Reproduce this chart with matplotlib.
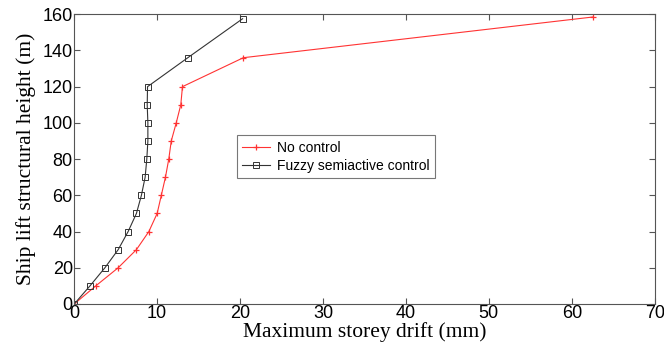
import matplotlib
matplotlib.use("Agg")
import matplotlib.pyplot as plt

height = [0, 10, 20, 30, 40, 50, 60, 70, 80, 90, 100, 110, 120, 136, 157.5]
height_nc = [0, 10, 20, 30, 40, 50, 60, 70, 80, 90, 100, 110, 120, 136, 158.5]
no_control = [0, 2.6, 5.3, 7.5, 9.0, 10.0, 10.5, 11.0, 11.4, 11.7, 12.3, 12.85, 13.05, 20.4, 62.6]
fuzzy = [0, 1.9, 3.7, 5.3, 6.5, 7.5, 8.1, 8.55, 8.75, 8.88, 8.88, 8.8, 8.84, 13.7, 20.3]

fig = plt.figure(figsize=(6.64, 3.47), dpi=100)
ax = fig.add_axes([0.1118, 0.124, 0.8742, 0.835])
ax.plot(no_control, height_nc, color='#ff3333', lw=0.8, marker='+', ms=4, mew=0.9,
        label='No control')
ax.plot(fuzzy, height, color='#333333', lw=0.8, marker='s', ms=4, mfc='none', mew=0.7,
        label='Fuzzy semiactive control')
ax.set_xlim(0, 70)
ax.set_ylim(0, 160)
ax.set_xticks(range(0, 71, 10))
ax.set_yticks(range(0, 161, 20))
for s in ax.spines.values():
    s.set_color('#555555')
    s.set_linewidth(0.8)
ax.tick_params(direction='in', top=True, right=True, length=4, width=0.8, color='#555555',
               labelsize=13, pad=1)
for lab in ax.get_xticklabels() + ax.get_yticklabels():
    lab.set_fontfamily('Liberation Sans')
ax.set_xlabel('Maximum storey drift (mm)', family='Liberation Serif', fontsize=15.5, labelpad=0)
ax.set_ylabel('Ship lift structural height (m)', family='Liberation Serif', fontsize=15.5, labelpad=5)
leg = ax.legend(loc='upper left', bbox_to_anchor=(0.28, 0.583), borderaxespad=0, frameon=True,
                fancybox=False, edgecolor='#555555', prop={'family': 'Liberation Sans', 'size': 10},
                handlelength=2.0, borderpad=0.4, labelspacing=0.3, handletextpad=0.5)
leg.get_frame().set_linewidth(0.8)
fig.savefig('out.png', dpi=100)
